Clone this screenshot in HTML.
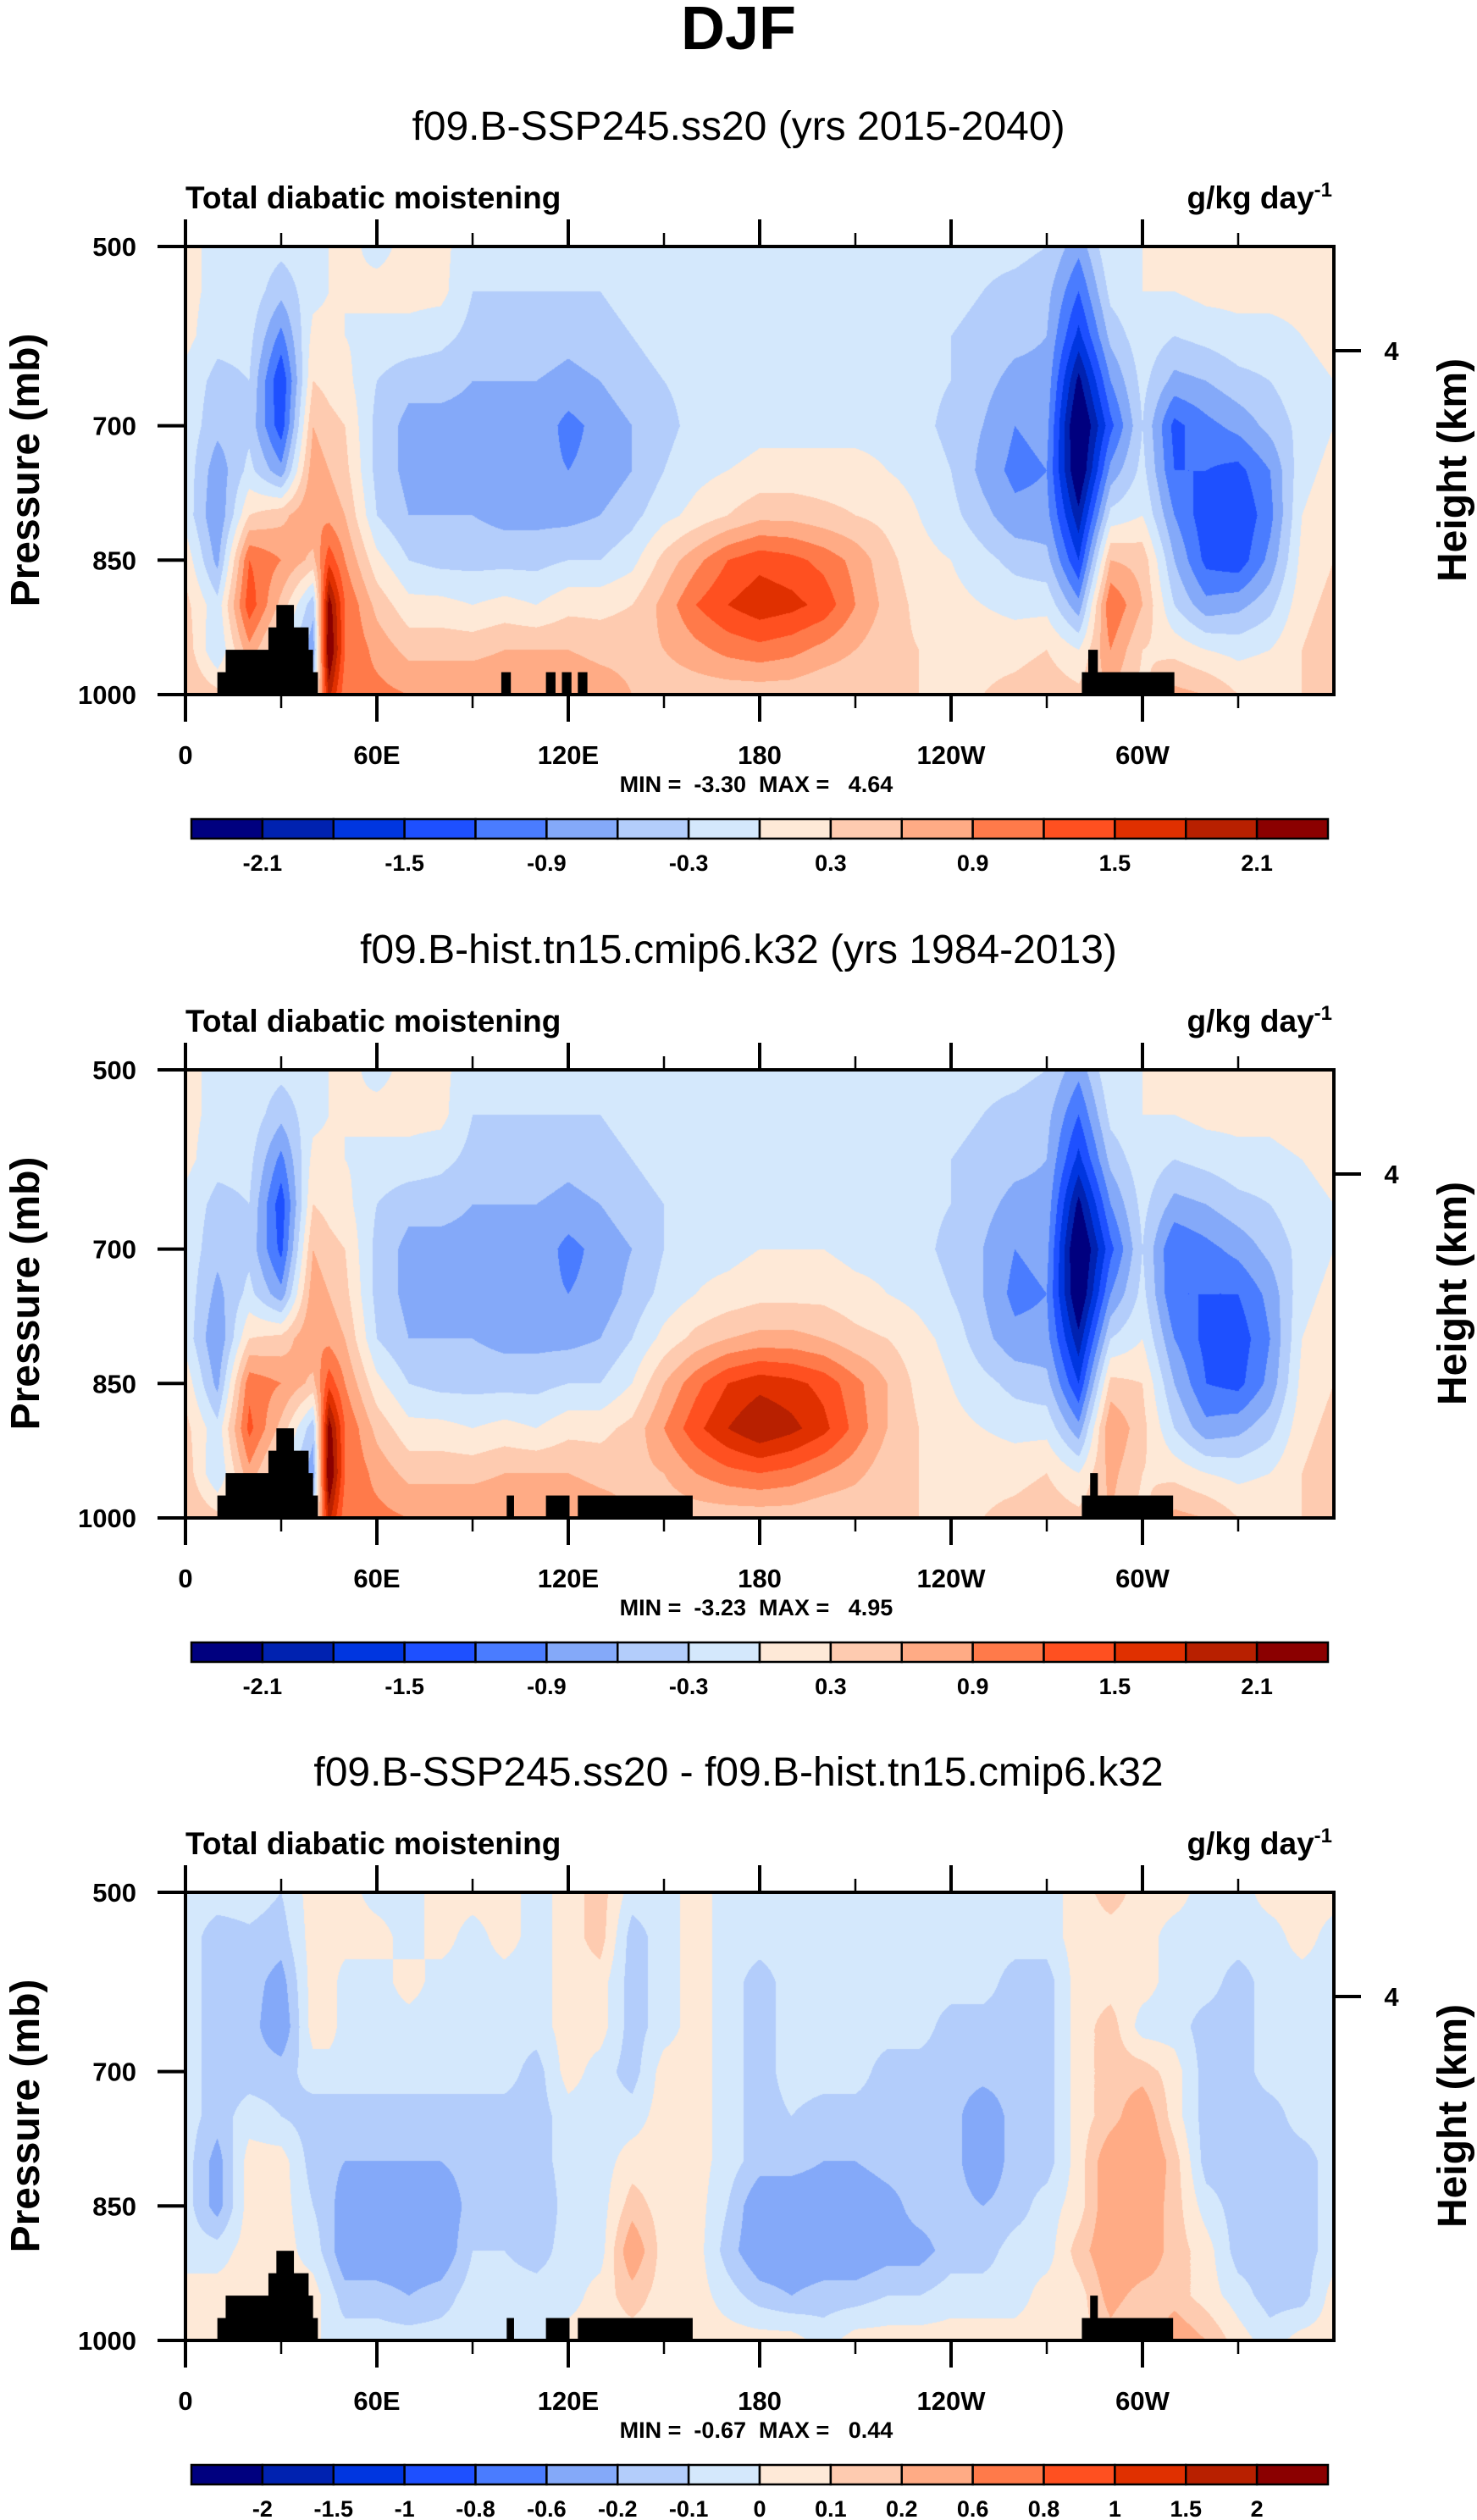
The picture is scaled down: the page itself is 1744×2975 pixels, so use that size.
<!DOCTYPE html>
<html><head><meta charset="utf-8"><style>
body{margin:0;background:#fff;}
#wrap{position:relative;width:1744px;height:2975px;overflow:hidden;background:#fff;}
canvas{position:absolute;}
svg{position:absolute;left:0;top:0;}
</style></head><body>
<div id="wrap">
<svg id="svg" width="1744" height="2975" font-family="Liberation Sans, sans-serif"></svg>
</div>
<script>
// ---- data ----
const lons = [0,10,20,30,40,45,50,60,70,80,90,100,110,120,130,140,150,160,170,180,190,200,210,220,230,240,250,260,270,280,290,300,310,320,330,340,350,360];
const levels = [500,550,600,650,700,750,800,850,900,950,1000];
// each row = one longitude column, values top (500) to bottom (1000)
const field1 = [
[0.1,0.1,0.1,-0.1,-0.1,-0.1,-0.1,0.2,0.4,0.5,0.6],
[-0.1,-0.1,-0.2,-0.4,-0.5,-0.8,-0.9,-0.7,-0.2,-0.3,0.4],
[-0.1,-0.1,-0.2,-0.3,-0.4,-0.2,0.3,1.2,1.4,0.8,0.5],
[-0.2,-0.5,-1.0,-1.5,-1.4,-0.8,0.5,0.9,0.5,0,0],
[-0.1,-0.1,0.1,0.3,0.6,0.8,0.9,0.5,-0.5,-0.8,-0.3],
[0,0,0.1,0.2,0.4,0.6,0.8,1.4,2.3,2.5,1.9],
[0.1,0,0,0.1,0.3,0.4,0.6,0.9,1.2,1.2,1.0],
[-0.1,0.1,-0.1,-0.3,-0.4,-0.4,-0.3,0.1,0.5,0.8,1.0],
[0.1,0.1,-0.1,-0.5,-0.7,-0.7,-0.6,-0.3,0.1,0.5,0.9],
[0.1,0.1,-0.2,-0.5,-0.7,-0.7,-0.6,-0.4,0.1,0.5,0.9],
[-0.2,-0.3,-0.4,-0.6,-0.7,-0.7,-0.6,-0.4,0,0.5,0.9],
[-0.3,-0.3,-0.5,-0.6,-0.7,-0.8,-0.7,-0.4,0.1,0.6,0.9],
[-0.2,-0.3,-0.4,-0.6,-0.7,-0.8,-0.7,-0.4,0,0.6,0.9],
[-0.2,-0.3,-0.5,-0.7,-1.0,-0.9,-0.7,-0.3,0.2,0.6,0.9],
[-0.2,-0.3,-0.4,-0.6,-0.8,-0.8,-0.6,-0.3,0.2,0.5,0.8],
[-0.2,-0.2,-0.3,-0.4,-0.6,-0.6,-0.4,-0.1,0.3,0.5,0.6],
[-0.1,-0.2,-0.2,-0.3,-0.4,-0.3,-0.1,0.4,0.7,0.6,0.4],
[-0.1,-0.1,-0.2,-0.2,-0.2,-0.1,0.1,0.8,1.2,0.8,0.4],
[0,-0.1,-0.2,-0.2,-0.2,0,0.3,1.2,1.5,1.0,0.4],
[0,-0.1,-0.1,-0.2,-0.1,0.1,0.5,1.4,1.7,1.1,0.4],
[-0.1,-0.1,-0.1,-0.2,-0.1,0.1,0.5,1.3,1.6,1.0,0.4],
[-0.1,-0.1,-0.1,-0.2,-0.1,0.1,0.4,1.1,1.4,0.8,0.3],
[-0.1,-0.1,-0.2,-0.2,-0.1,0.1,0.3,0.8,0.9,0.6,0.3],
[-0.1,-0.2,-0.2,-0.2,-0.1,0,0.2,0.4,0.5,0.4,0.3],
[-0.2,-0.2,-0.2,-0.2,-0.2,-0.1,0,0.1,0.2,0.3,0.3],
[-0.2,-0.2,-0.3,-0.3,-0.4,-0.3,-0.2,0,0.1,0.2,0.3],
[-0.2,-0.3,-0.4,-0.5,-0.6,-0.7,-0.5,-0.2,0,0.2,0.3],
[-0.2,-0.4,-0.5,-0.7,-0.9,-1.0,-0.8,-0.4,-0.1,0.2,0.4],
[-0.3,-0.5,-0.6,-0.7,-0.8,-0.9,-0.8,-0.5,-0.1,0.3,0.5],
[-0.8,-1.2,-1.6,-2.2,-2.6,-2.5,-2.0,-1.5,-0.8,0,0.4],
[0,-0.2,-0.5,-0.9,-1.3,-0.8,-0.2,0.6,1.2,0.9,0.6],
[0,0,-0.1,-0.2,-0.3,-0.2,0,0.5,0.6,0.3,0.2],
[0.1,0,-0.3,-0.7,-1.3,-1.2,-0.9,-0.6,-0.3,0.2,0.7],
[0.1,0.1,-0.2,-0.6,-1.0,-1.2,-1.4,-1.3,-0.8,0,0.6],
[0.1,0.1,-0.1,-0.4,-0.8,-1.3,-1.5,-1.4,-0.7,-0.1,0.3],
[0.1,0.1,-0.1,-0.3,-0.5,-0.9,-1.0,-0.8,-0.4,0,0.3],
[0.1,0.1,0,-0.1,-0.2,-0.1,0,0.1,0.2,0.3,0.3],
[0.1,0.1,0.1,0,0,0.1,0.2,0.3,0.4,0.5,0.5]];
const field2 = [
[0.1,0.1,0.1,-0.1,-0.1,-0.1,-0.1,0.2,0.4,0.5,0.6],
[-0.1,-0.1,-0.2,-0.4,-0.5,-0.7,-0.9,-0.7,-0.2,-0.3,0.4],
[-0.1,-0.1,-0.2,-0.3,-0.4,-0.2,0.3,1.1,1.3,0.8,0.5],
[-0.2,-0.5,-1.0,-1.4,-1.3,-0.8,0.4,0.9,0.5,0,0],
[-0.1,-0.1,0.1,0.3,0.6,0.8,0.9,0.5,-0.5,-0.8,-0.3],
[0,0,0.1,0.2,0.4,0.6,0.8,1.4,2.3,2.5,1.9],
[0.1,0,0,0.1,0.3,0.4,0.6,0.9,1.2,1.2,1.0],
[-0.1,0.1,-0.1,-0.3,-0.4,-0.4,-0.3,0.1,0.5,0.8,1.0],
[0.1,0.1,-0.1,-0.5,-0.7,-0.7,-0.6,-0.3,0.1,0.5,0.9],
[0.1,0.1,-0.2,-0.5,-0.7,-0.7,-0.6,-0.4,0.1,0.5,0.9],
[-0.2,-0.3,-0.4,-0.6,-0.7,-0.7,-0.6,-0.4,0,0.5,0.9],
[-0.3,-0.3,-0.5,-0.6,-0.7,-0.8,-0.7,-0.4,0.1,0.6,0.9],
[-0.2,-0.3,-0.4,-0.6,-0.7,-0.8,-0.7,-0.4,0,0.6,0.9],
[-0.2,-0.3,-0.5,-0.7,-1.0,-0.9,-0.7,-0.3,0.2,0.6,0.9],
[-0.2,-0.3,-0.4,-0.6,-0.8,-0.8,-0.6,-0.3,0.2,0.5,0.8],
[-0.2,-0.2,-0.3,-0.4,-0.6,-0.5,-0.3,0,0.4,0.5,0.6],
[-0.1,-0.2,-0.2,-0.3,-0.3,-0.2,0.1,0.6,0.9,0.6,0.4],
[-0.1,-0.1,-0.2,-0.2,-0.1,0,0.4,1.1,1.4,0.9,0.4],
[0,-0.1,-0.2,-0.2,-0.1,0.1,0.6,1.5,1.8,1.1,0.4],
[0,-0.1,-0.1,-0.1,0,0.2,0.7,1.7,2.1,1.2,0.4],
[-0.1,-0.1,-0.1,-0.1,0,0.2,0.7,1.6,1.9,1.1,0.4],
[-0.1,-0.1,-0.1,-0.1,0,0.2,0.6,1.4,1.6,0.9,0.3],
[-0.1,-0.1,-0.1,-0.2,-0.1,0.1,0.4,1.0,1.1,0.7,0.3],
[-0.1,-0.1,-0.2,-0.2,-0.1,0,0.3,0.6,0.6,0.4,0.3],
[-0.2,-0.2,-0.2,-0.2,-0.2,-0.1,0.1,0.2,0.3,0.3,0.3],
[-0.2,-0.2,-0.3,-0.3,-0.4,-0.3,-0.1,0,0.1,0.2,0.3],
[-0.2,-0.3,-0.4,-0.5,-0.6,-0.6,-0.5,-0.2,0,0.2,0.3],
[-0.2,-0.4,-0.5,-0.7,-0.9,-1.0,-0.8,-0.4,-0.1,0.2,0.4],
[-0.3,-0.5,-0.6,-0.7,-0.8,-0.9,-0.8,-0.5,-0.1,0.3,0.5],
[-0.8,-1.2,-1.6,-2.2,-2.6,-2.5,-2.0,-1.5,-0.8,0,0.4],
[0,-0.2,-0.5,-0.9,-1.3,-0.9,-0.3,0.4,0.9,0.7,0.6],
[0,0,-0.1,-0.2,-0.3,-0.2,0,0.3,0.4,0.3,0.2],
[0.1,0,-0.3,-0.7,-1.2,-1.2,-0.9,-0.6,-0.3,0.2,0.7],
[0.1,0.1,-0.2,-0.6,-1.0,-1.2,-1.3,-1.2,-0.8,0,0.6],
[0.1,0.1,-0.1,-0.4,-0.8,-1.2,-1.4,-1.3,-0.7,-0.1,0.3],
[0.1,0.1,-0.1,-0.3,-0.5,-0.8,-0.9,-0.8,-0.4,0,0.3],
[0.1,0.2,0,-0.1,-0.2,-0.1,0,0.1,0.2,0.3,0.3],
[0.1,0.1,0.1,0,0,0.1,0.2,0.3,0.4,0.5,0.5]];
const field3 = [
[-0.05,-0.05,-0.05,-0.05,-0.05,-0.05,-0.05,-0.05,-0.05,0.05,0.05],
[-0.05,-0.15,-0.15,-0.15,-0.15,-0.15,-0.25,-0.25,-0.05,0.05,0.05],
[-0.05,-0.12,-0.15,-0.15,-0.15,-0.05,0.05,0.05,0.05,0.05,0.05],
[-0.1,-0.15,-0.25,-0.3,-0.15,-0.1,0.05,0.05,0.05,0.05,0.05],
[0.05,0.05,0.05,0.05,-0.05,-0.15,-0.15,-0.1,-0.05,0.05,0.05],
[0.05,0.05,0.05,0.05,-0.05,-0.15,-0.15,-0.15,-0.15,-0.05,-0.05],
[0.05,0.05,-0.05,-0.05,-0.05,-0.15,-0.2,-0.3,-0.3,-0.15,-0.05],
[-0.05,0.05,-0.05,-0.05,-0.05,-0.15,-0.2,-0.3,-0.3,-0.15,-0.05],
[-0.05,-0.05,0.05,-0.05,-0.05,-0.15,-0.2,-0.25,-0.3,-0.2,-0.05],
[0.05,0.05,-0.05,-0.05,-0.05,-0.15,-0.2,-0.3,-0.3,-0.15,-0.05],
[0.05,-0.05,-0.05,-0.05,-0.05,-0.15,-0.15,-0.15,-0.1,-0.05,-0.05],
[0.05,0.05,-0.05,-0.05,-0.05,-0.15,-0.15,-0.15,-0.1,-0.05,-0.05],
[-0.05,-0.05,-0.05,-0.05,-0.15,-0.15,-0.15,-0.2,-0.15,-0.05,-0.05],
[0.05,0.05,0.05,0.05,0.05,-0.05,-0.05,-0.05,-0.05,-0.05,0.05],
[0.15,0.15,0.05,0.05,-0.05,-0.05,-0.05,-0.05,-0.05,0.05,0.05],
[-0.05,-0.15,-0.15,-0.15,-0.15,-0.05,0.05,0.15,0.3,0.15,0.05],
[-0.05,-0.05,-0.05,-0.05,0.05,0.05,0.05,0.05,0.05,0.05,0.05],
[0.05,0.05,0.05,0.05,0.05,0.05,0.05,0.05,0.05,0.05,0.05],
[-0.05,-0.05,-0.05,-0.05,-0.05,-0.05,-0.05,-0.1,-0.15,-0.05,0.05],
[-0.05,-0.05,-0.15,-0.15,-0.15,-0.15,-0.15,-0.3,-0.3,-0.15,0.05],
[-0.05,-0.05,-0.05,-0.05,-0.05,-0.1,-0.15,-0.3,-0.3,-0.2,0.05],
[-0.05,-0.05,-0.05,-0.05,-0.05,-0.15,-0.2,-0.3,-0.3,-0.15,-0.05],
[-0.05,-0.05,-0.05,-0.05,-0.05,-0.15,-0.2,-0.3,-0.3,-0.15,0.05],
[-0.05,-0.05,-0.05,-0.05,-0.15,-0.15,-0.15,-0.25,-0.25,-0.1,0.05],
[-0.05,-0.05,-0.05,-0.05,-0.15,-0.15,-0.15,-0.15,-0.25,-0.1,0.05],
[-0.05,-0.05,-0.05,-0.15,-0.15,-0.15,-0.15,-0.15,-0.15,-0.05,0.05],
[-0.05,-0.05,-0.05,-0.15,-0.15,-0.3,-0.3,-0.2,-0.15,-0.05,0.05],
[-0.05,-0.05,-0.15,-0.15,-0.15,-0.15,-0.15,-0.15,-0.05,-0.05,0.05],
[-0.05,-0.05,-0.15,-0.15,-0.15,-0.15,-0.15,-0.05,-0.05,0.05,0.05],
[0.05,0.05,0.05,0.05,0.05,0.05,0.05,0.05,0.15,0.05,0.05],
[0.15,0.05,0.05,0.15,0.15,0.15,0.3,0.3,0.3,0.25,0.15],
[0.05,0.05,0.05,-0.05,0.15,0.3,0.35,0.3,0.3,0.15,0.05],
[0.05,-0.05,-0.05,-0.05,0.05,0.05,0.15,0.15,0.15,0.15,0.3],
[-0.05,-0.05,-0.05,-0.15,-0.15,-0.15,-0.15,-0.05,0.05,0.05,0.2],
[-0.05,-0.05,-0.15,-0.15,-0.15,-0.15,-0.15,-0.15,-0.15,-0.05,0.05],
[0.05,-0.05,-0.05,-0.05,-0.05,-0.15,-0.15,-0.15,-0.15,-0.15,-0.05],
[0.05,0.05,-0.05,-0.05,-0.05,-0.05,-0.15,-0.15,-0.15,-0.15,0.05],
[0.05,-0.05,-0.05,-0.05,-0.05,-0.05,-0.05,-0.05,-0.05,0.05,0.05]];
const contourLevelsA = [-2.1,-1.8,-1.5,-1.2,-0.9,-0.6,-0.3,0,0.3,0.6,0.9,1.2,1.5,1.8,2.1];
const contourLevelsB = [-2,-1.5,-1,-0.8,-0.6,-0.2,-0.1,0,0.1,0.2,0.6,0.8,1,1.5,2];
const cbLabelsA = ["-2.1","","-1.5","","-0.9","","-0.3","","0.3","","0.9","","1.5","","2.1"];
const cbLabelsB = ["-2","-1.5","-1","-0.8","-0.6","-0.2","-0.1","0","0.1","0.2","0.6","0.8","1","1.5","2"];
const colors = ["#00007f","#0022b0","#0036e0","#1e50ff","#4a7cff","#84a9f9","#b3cdfb","#d4e8fc","#fee9d7","#fecbb0","#ffab85","#ff7a4a","#ff5020","#e03000","#b82000","#8b0000"];
const topoA = [[10,41.5,975],[12.6,40,950],[26,38.6,925],[28.5,34,900],[99,102,975],[113,116,975],[118,121,975],[123,126,975],[281,310,975],[283,286,950]];
const topoB = [[10,41.5,975],[12.6,40,950],[26,38.6,925],[28.5,34,900],[100.7,103,975],[113,120.4,975],[123,159,975],[281,309.6,975],[283.6,286,950]];
const xTickLabels = ["0","60E","120E","180","120W","60W"];
const yTickVals = [500,700,850,1000];
const titles = ["f09.B-SSP245.ss20 (yrs 2015-2040)","f09.B-hist.tn15.cmip6.k32 (yrs 1984-2013)","f09.B-SSP245.ss20 - f09.B-hist.tn15.cmip6.k32"];
const minmax = ["MIN =  -3.30  MAX =   4.64","MIN =  -3.23  MAX =   4.95","MIN =  -0.67  MAX =   0.44"];

// ---- layout ----
const L=219, R=1575, PT=291, PB=820, offsets=[0,972,1943];
const W=R-L, H=PB-PT;
const xS = lon => L + lon/360*W;
const yS = (p,dy) => PT+dy + (p-500)/500*H;
const svg=document.getElementById('svg');
const NS='http://www.w3.org/2000/svg';
function mk(tag,attrs,parent){const e=document.createElementNS(NS,tag);for(const k in attrs)e.setAttribute(k,attrs[k]);(parent||svg).appendChild(e);return e;}
function txt(s,attrs,parent){const e=mk('text',attrs,parent);e.textContent=s;return e;}

const djf=txt("DJF",{x:872,y:58,'text-anchor':'middle','font-size':72,'font-weight':'bold'});



function interp(field,lon,p){
  let i=0; while(i<lons.length-2 && lon>lons[i+1]) i++;
  let tx=(lon-lons[i])/(lons[i+1]-lons[i]);
  let fj=(p-levels[0])/50; let j=Math.min(levels.length-2,Math.floor(fj)); let ty=fj-j;
  const a=field[i][j],b=field[i+1][j],c=field[i][j+1],d=field[i+1][j+1];
  return a*(1-tx)*(1-ty)+b*tx*(1-ty)+c*(1-tx)*ty+d*tx*ty;
}
function colorIdx(v,lv){let k=0;while(k<lv.length&&v>=lv[k])k++;return k;}
function hex(h){return [parseInt(h.substr(1,2),16),parseInt(h.substr(3,2),16),parseInt(h.substr(5,2),16)];}
const rgb=colors.map(hex);

const fields=[field1,field2,field3];
const lvs=[contourLevelsA,contourLevelsA,contourLevelsB];
const cbl=[cbLabelsA,cbLabelsA,cbLabelsB];
const topos=[topoA,topoB,topoB];

for(let k=0;k<3;k++){
  const dy=offsets[k];
  const g=mk('g',{});
  
  
  const cv=document.createElement('canvas');
  cv.width=W;cv.height=H;cv.style.left=L+'px';cv.style.top=(PT+dy)+'px';
  
  
  document.getElementById('wrap').insertBefore(cv,svg);
  const ctx=cv.getContext('2d');const img=ctx.createImageData(W,H);
  for(let y=0;y<H;y++){const p=500+(y+0.5)/H*500;
    for(let x=0;x<W;x++){const lon=(x+0.5)/W*360;
      const c=rgb[colorIdx(interp(fields[k],lon,p),lvs[k])];
      const o=(y*W+x)*4;img.data[o]=c[0];img.data[o+1]=c[1];img.data[o+2]=c[2];img.data[o+3]=255;}}
  ctx.putImageData(img,0,0);
  topos[k].forEach(t=>{
    const r=mk('rect',{x:xS(t[0]),y:yS(t[2],dy),width:xS(t[1])-xS(t[0]),height:yS(1000,dy)-yS(t[2],dy),fill:'#000'},g);
    
    
  });
  const fr=mk('rect',{x:L,y:PT+dy,width:W,height:H,fill:'none',stroke:'#000','stroke-width':4},g);
  
  
  for(let lon=0;lon<=330;lon+=30){
    const major=lon%60===0, len=major?32:16, x=xS(lon);
    mk('line',{x1:x,x2:x,y1:PT+dy,y2:PT+dy-len,stroke:'#000','stroke-width':major?4:2.5},g);
    mk('line',{x1:x,x2:x,y1:PB+dy,y2:PB+dy+len,stroke:'#000','stroke-width':major?4:2.5},g);
    if(major){const t=txt(xTickLabels[lon/60],{x:x,y:PB+dy+82,'text-anchor':'middle','font-size':31,'font-weight':'bold'},g);
      
      }
  }
  yTickVals.forEach(p=>{const y=yS(p,dy);
    mk('line',{x1:L,x2:L-33,y1:y,y2:y,stroke:'#000','stroke-width':4},g);
    const t=txt(String(p),{x:161,y:y+11,'text-anchor':'end','font-size':31,'font-weight':'bold'},g);
    
    
  });
  mk('line',{x1:R,x2:R+32,y1:414+dy,y2:414+dy,stroke:'#000','stroke-width':4},g);
  txt("4",{x:1643,y:425+dy,'text-anchor':'middle','font-size':31,'font-weight':'bold'},g);
  const yt=txt("Pressure (mb)",{x:0,y:0,'text-anchor':'middle','font-size':48,'font-weight':'bold',transform:`translate(46,${555+dy}) rotate(-90)`},g);
  
  
  const ht=txt("Height (km)",{x:0,y:0,'text-anchor':'middle','font-size':48,'font-weight':'bold',transform:`translate(1731,${555+dy}) rotate(-90)`},g);
  
  
  const st=txt(titles[k],{x:872,y:165+dy,'text-anchor':'middle','font-size':48},g);
  
  
  const lt=txt("Total diabatic moistening",{x:219,y:246+dy,'font-size':37,'font-weight':'bold'},g);
  
  
  const ut=mk('text',{x:1573,y:246+dy,'text-anchor':'end','font-size':37,'font-weight':'bold'},g);
  ut.innerHTML='g/kg day<tspan dy="-14" font-size="24">-1</tspan>';
  
  
  const mm=txt(minmax[k],{x:893,y:935+dy,'text-anchor':'middle','font-size':27,'font-weight':'bold',style:'white-space:pre'},g);
  
  
  const cbL=226, cbR=1568, cbT=967+dy, cbH=23, bw=(cbR-cbL)/16;
  for(let i=0;i<16;i++){
    const b=mk('rect',{x:cbL+i*bw,y:cbT,width:bw,height:cbH,fill:colors[i],stroke:'#000','stroke-width':2.5},g);
    
    
  }
  cbl[k].forEach((s,i)=>{if(!s)return;
    const t=txt(s,{x:cbL+(i+1)*bw,y:cbT+61,'text-anchor':'middle','font-size':27,'font-weight':'bold'},g);
    
    
  });
}
</script>
</body></html>
